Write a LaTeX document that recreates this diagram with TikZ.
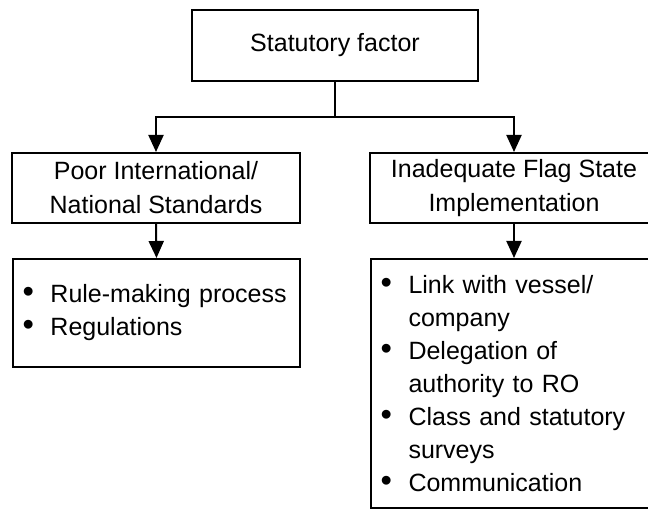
\documentclass[tikz,border=0pt]{standalone}
\usepackage{fontspec}
\setmainfont{Liberation Sans}
\usetikzlibrary{arrows.meta}

\newcommand{\bul}{\makebox[28pt][l]{\scalebox{1.3}{\textbullet}}}
\newcommand{\cont}{\hspace*{28pt}}

\begin{document}
\begin{tikzpicture}[
    x=1pt, y=1pt,
    >={Triangle[length=17pt, width=15pt]},
    font=\fontsize{25}{34}\selectfont,
    factor/.style={draw=black, line width=2pt, align=center,
                   inner sep=0pt, minimum height=70pt},
    listbox/.style={draw=black, line width=2pt, align=left,
                    inner xsep=9.5pt, inner ysep=0pt,
                    font=\fontsize{25}{33}\selectfont},
    link/.style={->, line width=2pt, black},
]
\useasboundingbox (0,0) rectangle (648,509);

% --- top-level factor ---
\node[factor, minimum width=286pt, minimum height=71pt] (statutory)
  at (335,463.5) {Statutory factor};

% --- second level ---
\node[factor, minimum width=288pt] (standards) at (156,321)
  {Poor International/\\National Standards};
\node[factor, minimum width=288pt] (flagstate) at (514,321)
  {Inadequate Flag State\\Implementation};

% --- contributing items ---
\node[listbox, text width=268pt, minimum height=108pt] (stdlist)
  at (156.5,196)
  {\bul Rule-making process\\
   \bul Regulations};
\node[listbox, text width=267pt, minimum height=249pt] (flaglist)
  at (514,125.5)
  {\bul Link with vessel/\\
   \cont company\\
   \bul Delegation of\\
   \cont authority to RO\\
   \bul Class and statutory\\
   \cont surveys\\
   \bul Communication};

% --- connectors ---
\coordinate (split) at ([yshift=-35pt]statutory.south);
\draw[line width=2pt] (statutory.south) -- (split);
\draw[link] (split) -| (standards.north);
\draw[link] (split) -| (flagstate.north);
\draw[link] (standards.south) -- (stdlist.north);
\draw[link] (flagstate.south) -- (flaglist.north);
\end{tikzpicture}
\end{document}
